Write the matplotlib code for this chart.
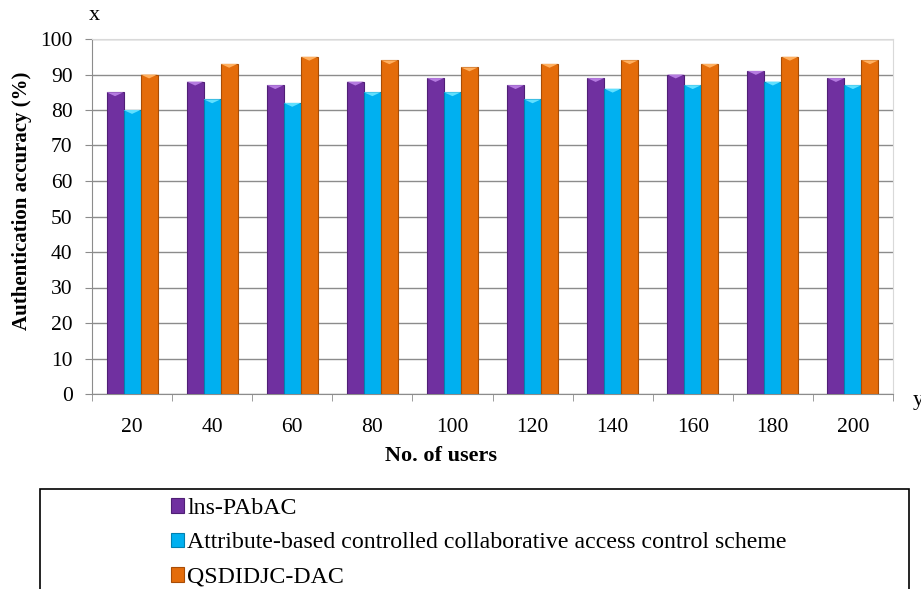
import matplotlib
matplotlib.use("Agg")
import matplotlib.pyplot as plt
import numpy as np
from matplotlib.patches import Polygon, Rectangle

plt.rcParams['font.family'] = ['Liberation Serif', 'DejaVu Serif']

users = [20, 40, 60, 80, 100, 120, 140, 160, 180, 200]
ins_pabac = [85, 88, 87, 88, 89, 87, 89, 90, 91, 89]
attr_based = [80, 83, 82, 85, 85, 83, 86, 87, 88, 87]
qsdidjc_dac = [90, 93, 95, 94, 92, 93, 94, 93, 95, 94]

series = [
    ("lns-PAbAC", ins_pabac, "#7030a0", "#4f1f75", "#b57be0"),
    ("Attribute-based controlled collaborative access control scheme", attr_based, "#00b0f0", "#0080b0", "#60e0ff"),
    ("QSDIDJC-DAC", qsdidjc_dac, "#e46c0a", "#a84c05", "#ffb060"),
]

W, H = 921, 589
fig = plt.figure(figsize=(W / 100, H / 100), dpi=100)
ax = fig.add_axes([92 / W, 1 - 394 / H, (893 - 92) / W, (394 - 39) / H])

x = np.arange(len(users))
w = 0.2125
offsets = [-w, 0, w]
handles = []
for (name, vals, col, edge, hi), off in zip(series, offsets):
    bars = ax.bar(x + off, vals, width=w, color=col, edgecolor=edge,
                  linewidth=0.8, zorder=3, label=name)
    handles.append(bars)
    # bevelled highlight at the top of each bar
    for xi, v in zip(x + off, vals):
        tri = Polygon([[xi - w / 2, v], [xi + w / 2, v], [xi, v - 1.1]],
                      closed=True, facecolor=hi, edgecolor='none', zorder=4)
        ax.add_patch(tri)

ax.set_xlim(-0.5, len(users) - 0.5)
ax.set_ylim(0, 100)
ax.set_yticks(range(0, 101, 10))
ax.set_xticks(x)
ax.set_xticklabels([str(u) for u in users])
ax.yaxis.grid(True, color='#8c8c8c', linewidth=1.0, zorder=0)
ax.set_axisbelow(True)
ax.tick_params(axis='y', labelsize=15.5, length=5, color='#8c8c8c', pad=9)
ax.set_xticks(np.arange(-0.5, len(users), 1.0), minor=True)
ax.tick_params(axis='x', which='major', length=0, pad=17, labelsize=15.5)
ax.tick_params(axis='x', which='minor', length=5, color='#8c8c8c')
for s in ['top', 'right']:
    ax.spines[s].set_color('#d9d9d9')
ax.spines['left'].set_color('#8c8c8c')
ax.spines['bottom'].set_color('#8c8c8c')

fig.text(441 / W, 1 - 456 / H, "No. of users", fontsize=16, fontweight='bold',
         ha='center', va='center')
fig.text(22 / W, 1 - 201 / H, "Authentication accuracy (%)", fontsize=15,
         fontweight='bold', ha='center', va='center', rotation=90)

fig.text(94 / W, 1 - 16 / H, "x", fontsize=16, ha='center', va='center')
fig.text(918 / W, 1 - 401 / H, "y", fontsize=16, ha='center', va='center')

# legend frame spanning below the plot
box = Rectangle((40 / W, -0.05), (909 - 40) / W, (H - 489) / H + 0.05,
                transform=fig.transFigure, facecolor='white', edgecolor='black',
                linewidth=1.2, zorder=0)
fig.patches.append(box)

leg = fig.legend(handles=handles, loc='upper left',
                 bbox_to_anchor=(171 / W, 1 - 498 / H),
                 frameon=False, fontsize=17.2, handlelength=0.55,
                 handleheight=0.55, handletextpad=0.12, labelspacing=0.56,
                 borderpad=0.0, borderaxespad=0.0)

fig.savefig("out.png", dpi=100)
